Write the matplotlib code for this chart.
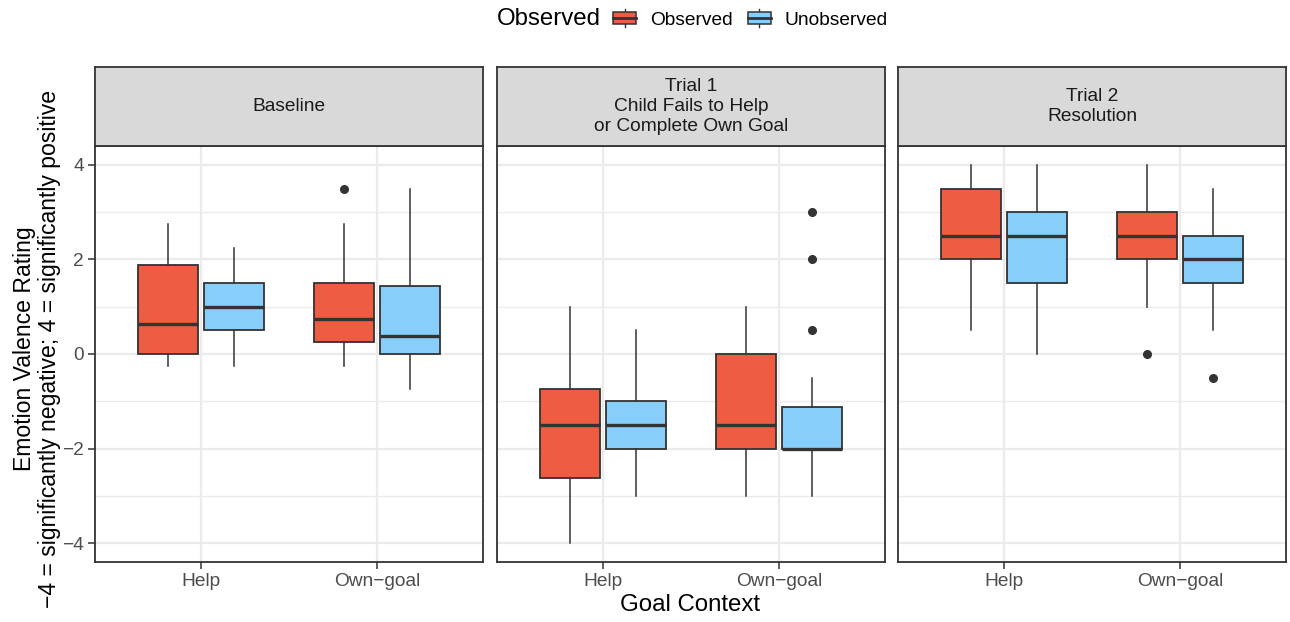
import matplotlib
matplotlib.use("Agg")
import matplotlib.pyplot as plt
from matplotlib.legend_handler import HandlerBase
from matplotlib.patches import Rectangle, Patch
from matplotlib.lines import Line2D

plt.rcParams['font.family'] = ['Liberation Sans', 'DejaVu Sans']

# facets / categories
trials = ["Baseline",
          "Trial 1\nChild Fails to Help\nor Complete Own Goal",
          "Trial 2\nResolution"]
contexts = ["Help", "Own\u2212goal"]
groups = ["Observed", "Unobserved"]
group_colors = ["#EE5C42", "#87CEFA"]

# box statistics, indexed [trial][context]
obs_whislo = [[-0.25, -0.25], [-4.0, -3.0], [0.5, 1.0]]
obs_q1 = [[0.0, 0.25], [-2.625, -2.0], [2.0, 2.0]]
obs_med = [[0.625, 0.75], [-1.5, -1.5], [2.5, 2.5]]
obs_q3 = [[1.875, 1.5], [-0.75, 0.0], [3.5, 3.0]]
obs_whishi = [[2.75, 2.75], [1.0, 1.0], [4.0, 4.0]]
obs_fliers = [[[], [3.5]], [[], []], [[], [0.0]]]

unobs_whislo = [[-0.25, -0.75], [-3.0, -3.0], [0.0, 0.5]]
unobs_q1 = [[0.5, 0.0], [-2.0, -2.0], [1.5, 1.5]]
unobs_med = [[1.0, 0.375], [-1.5, -2.0], [2.5, 2.0]]
unobs_q3 = [[1.5, 1.4375], [-1.0, -1.125], [3.0, 2.5]]
unobs_whishi = [[2.25, 3.5], [0.5, -0.5], [4.0, 3.5]]
unobs_fliers = [[[], []], [[], [0.5, 2.0, 3.0]], [[], [-0.5]]]

y_ticks = [-4, -2, 0, 2, 4]
y_ticklabels = ["\u22124", "\u22122", "0", "2", "4"]

stat_sets = [
    (obs_whislo, obs_q1, obs_med, obs_q3, obs_whishi, obs_fliers),
    (unobs_whislo, unobs_q1, unobs_med, unobs_q3, unobs_whishi, unobs_fliers),
]

W, H = 1290, 622
fig = plt.figure(figsize=(W / 100, H / 100), dpi=100)

edge = "#333333"
grid_c = "#EBEBEB"
small = 13.8
base = 17.3

panel_lefts = [95, 497, 898]
panel_w = 388
ax_top, ax_bot = 146, 562
strip_top = 67

dodge = 0.1875
box_w = 0.3375

for i, trial in enumerate(trials):
    left = panel_lefts[i] / W
    ax = fig.add_axes([left, 1 - ax_bot / H, panel_w / W, (ax_bot - ax_top) / H])
    st = fig.add_axes([left, 1 - ax_top / H, panel_w / W, (ax_top - strip_top) / H])

    # grid
    for y in [-3, -1, 1, 3]:
        ax.axhline(y, color=grid_c, lw=1.0, zorder=0)
    for y in y_ticks:
        ax.axhline(y, color=grid_c, lw=1.6, zorder=0)
    for x in [1, 2]:
        ax.axvline(x, color=grid_c, lw=1.6, zorder=0)

    for g, (wlo, q1, med, q3, whi, fl) in enumerate(stat_sets):
        stats = []
        positions = []
        for c in range(len(contexts)):
            stats.append(dict(whislo=wlo[i][c], q1=q1[i][c], med=med[i][c],
                              q3=q3[i][c], whishi=whi[i][c], fliers=fl[i][c]))
            positions.append(c + 1 + (g * 2 - 1) * dodge)
        ax.bxp(stats, positions=positions, widths=box_w, patch_artist=True,
               showcaps=False, manage_ticks=False,
               boxprops=dict(facecolor=group_colors[g], edgecolor=edge, linewidth=1.3),
               medianprops=dict(color=edge, linewidth=2.4, solid_capstyle='butt'),
               whiskerprops=dict(color=edge, linewidth=1.1),
               flierprops=dict(marker='o', markerfacecolor=edge, markeredgecolor=edge,
                               markersize=5.5, linestyle='none'),
               zorder=2)

    ax.set_xlim(0.4, 2.6)
    ax.set_ylim(-4.4, 4.4)
    ax.set_xticks([1, 2])
    ax.set_xticklabels(contexts, fontsize=small, color="#4D4D4D")
    ax.set_yticks(y_ticks)
    if i == 0:
        ax.set_yticklabels(y_ticklabels, fontsize=small, color="#4D4D4D")
    else:
        ax.tick_params(axis='y', left=False, labelleft=False)
    ax.tick_params(axis='both', color=edge, length=5, width=1.1, pad=3)
    for s in ax.spines.values():
        s.set_color(edge)
        s.set_linewidth(1.3)

    st.set_facecolor("#D9D9D9")
    st.set_xticks([])
    st.set_yticks([])
    for s in st.spines.values():
        s.set_color(edge)
        s.set_linewidth(1.3)
    st.text(0.5, 0.5, trial, ha='center', va='center', fontsize=small,
            color="#1A1A1A", linespacing=1.2, transform=st.transAxes)

fig.text(37 / W, 1 - 349 / H,
         "Emotion Valence Rating\n\u22124 = significantly negative; 4 = significantly positive",
         rotation=90, ha='center', va='center', fontsize=16.6, linespacing=1.1)
fig.text(690 / W, 1 - 605 / H, "Goal Context", ha='center', va='center', fontsize=base)


class BoxKey(HandlerBase):
    def create_artists(self, legend, orig_handle, xdescent, ydescent, width, height,
                       fontsize, trans):
        x0, y0 = -xdescent, -ydescent
        box = Rectangle((x0, y0 + 0.15 * height), width, 0.7 * height,
                        facecolor=orig_handle.get_facecolor(), edgecolor=edge,
                        linewidth=1.1, transform=trans)
        whisk = Line2D([x0 + width / 2] * 2, [y0 - 0.05 * height, y0 + 1.05 * height],
                       color=edge, lw=1.0, transform=trans)
        med = Line2D([x0, x0 + width], [y0 + height / 2] * 2, color=edge, lw=2.0,
                     transform=trans)
        return [whisk, box, med]


handles = [Patch(facecolor=c) for c in group_colors]
fig.text(497 / W, 1 - 19 / H, "Observed", ha='left', va='center', fontsize=base)
fig.legend(handles, groups, handler_map={Patch: BoxKey()}, loc='center left',
           bbox_to_anchor=(613 / W, 1 - 19 / H), ncol=2, frameon=False,
           fontsize=small, handlelength=1.2, handleheight=1.0,
           handletextpad=0.73, columnspacing=0.78, borderpad=0, borderaxespad=0)

fig.savefig("out.png", dpi=100)
